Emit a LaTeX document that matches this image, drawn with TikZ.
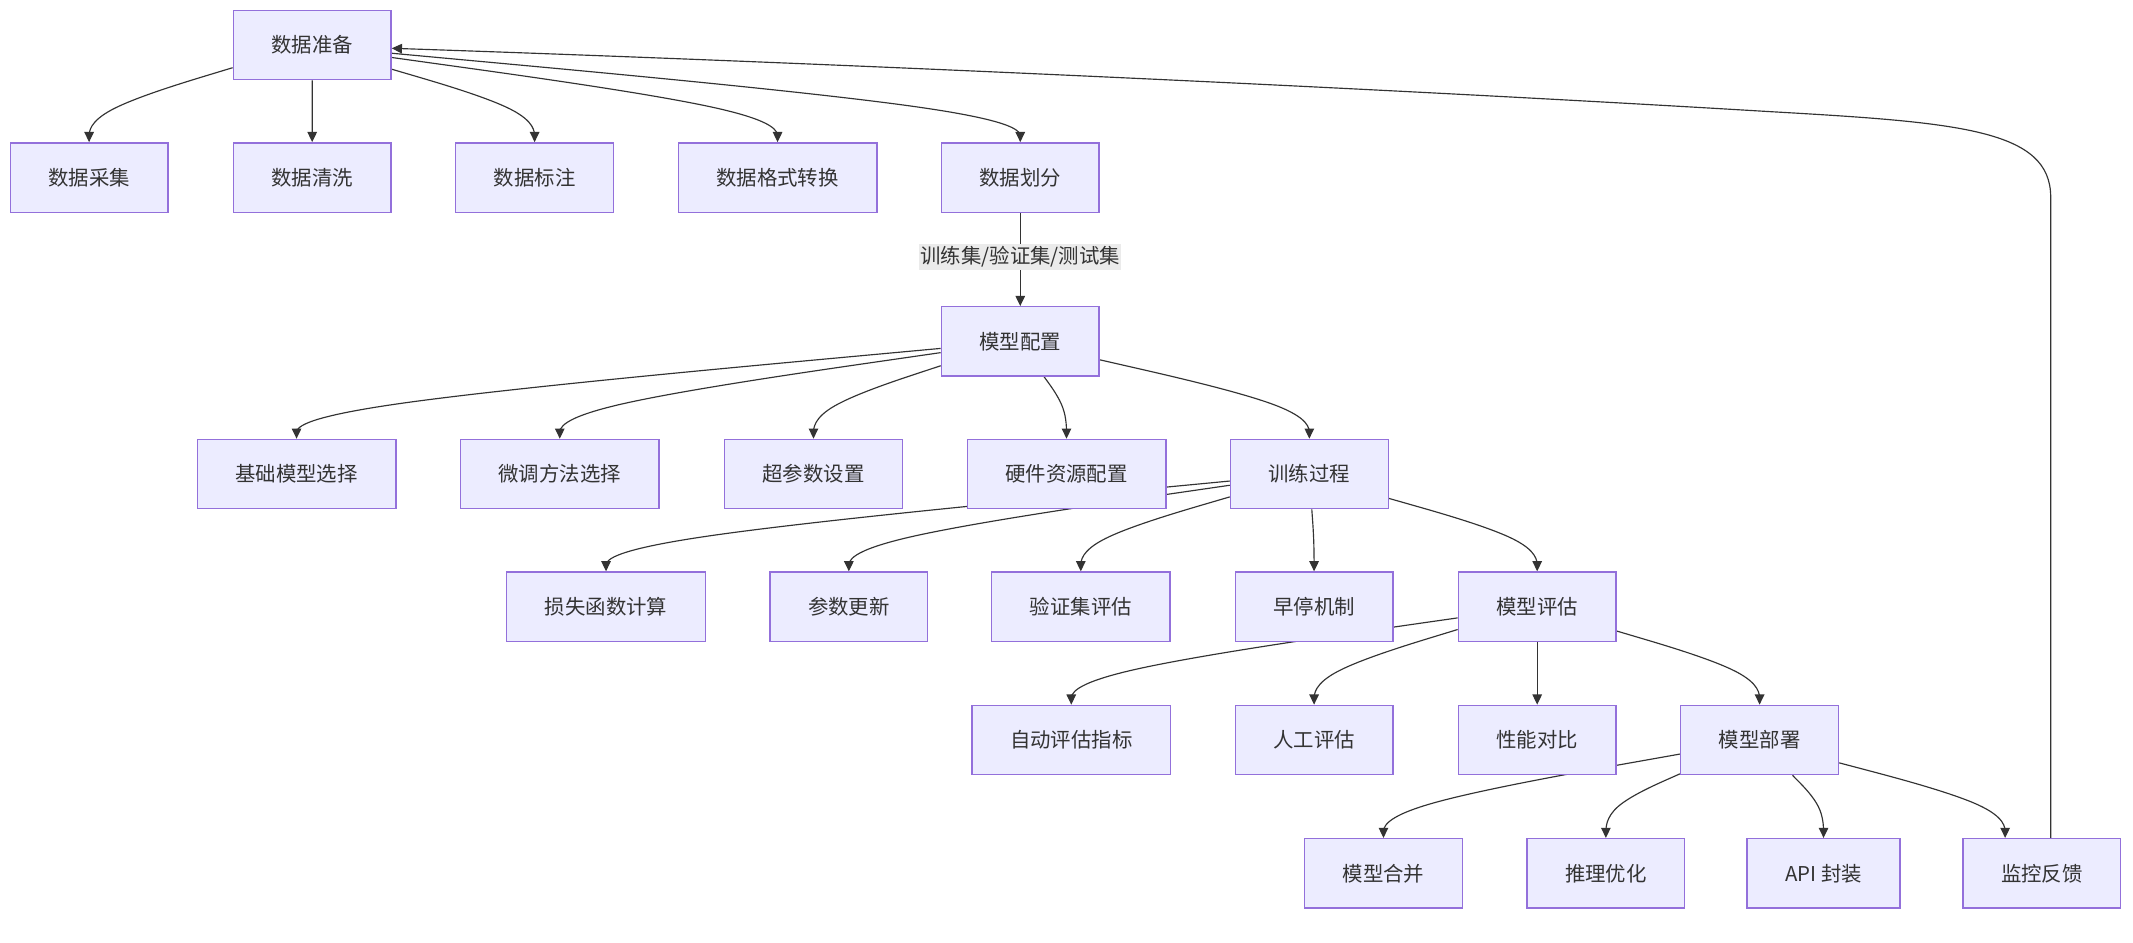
\documentclass[tikz,border=0pt]{standalone}
\usepackage{fontspec}
\setmainfont{Noto Sans CJK SC}
\usetikzlibrary{arrows.meta,calc,backgrounds}
\definecolor{nodefill}{HTML}{ECECFF}
\definecolor{nodeborder}{HTML}{9370DB}
\definecolor{textc}{HTML}{333333}
\definecolor{edgec}{HTML}{333333}
\definecolor{lblbg}{HTML}{EBEBEB}
% mermaid-like basis curve: #1 x-shift of end, #2 source, #3 target, #4 y of bend point
\newcommand{\medge}[4][0]{%
  \coordinate (mT) at ($(#3.north)+(#1,0)$);
  \coordinate (mM) at (mT |- 0,#4);
  \pgfmathanglebetweenpoints{\pgfpointanchor{#2}{center}}{\pgfpointanchor{mM}{center}}%
  \edef\mdgang{\pgfmathresult}%
  \coordinate (mS) at (#2.\mdgang);
  \coordinate (mH) at ($(mS)!0.5!(mT)$);
  \coordinate (mP) at ($(mM)!1/3!(mH)$);
  \draw[edge] (mS) -- ($(mS)!1/6!(mM)$) .. controls ($(mS)!1/3!(mM)$) and ($(mS)!2/3!(mM)$) .. (mP) .. controls ($(mM)!1/3!(mT)$) and ($(mM)!2/3!(mT)$) .. ($(mM)!5/6!(mT)$) -- (mT);
}
\begin{document}
\begin{tikzpicture}[x=1pt,y=-1pt,
  box/.style={draw=nodeborder, fill=nodefill, line width=1pt, minimum height=51pt,
    inner xsep=28pt, text=textc, font=\fontsize{15pt}{18pt}\selectfont},
  lbl/.style={fill=lblbg, text=textc, inner xsep=1pt, inner ysep=2pt,
    font=\fontsize{15pt}{18pt}\selectfont},
  edge/.style={draw=edgec, line width=0.85pt, -{Triangle[length=7.5pt,width=7pt]}}]
\useasboundingbox (0,0) rectangle (1568,692.5);
% nodes
\node[box] (N1) at (229.5,33) {数据准备};
\node[box] (A1) at (65.5,130.5) {数据采集};
\node[box] (A2) at (229.5,130.5) {数据清洗};
\node[box] (A3) at (393,130.5) {数据标注};
\node[box] (A4) at (571.6,130.5) {数据格式转换};
\node[box] (A5) at (750,130.5) {数据划分};
\node[box] (B) at (750,251) {模型配置};
\node[box] (C1) at (218,348.5) {基础模型选择};
\node[box] (C2) at (411.5,348.5) {微调方法选择};
\node[box] (C3) at (598,348.5) {超参数设置};
\node[box] (C4) at (784,348.5) {硬件资源配置};
\node[box] (C5) at (962.5,348.5) {训练过程};
\node[box] (D1) at (445.5,446) {损失函数计算};
\node[box] (D2) at (624,446) {参数更新};
\node[box] (D3) at (794.5,446) {验证集评估};
\node[box] (D4) at (966,446) {早停机制};
\node[box] (D5) at (1130,446) {模型评估};
\node[box] (E1) at (787.5,544) {自动评估指标};
\node[box] (E2) at (966,544) {人工评估};
\node[box] (E3) at (1130,544) {性能对比};
\node[box] (E4) at (1293.5,544) {模型部署};
\node[box] (F1) at (1017,642) {模型合并};
\node[box] (F2) at (1180.5,642) {推理优化};
\node[box] (F3) at (1340.5,642) {API 封装};
\node[box] (F4) at (1501,642) {监控反馈};
\node[lbl] (L) at (750,189) {训练集/验证集/测试集};
\begin{scope}[on background layer]
\fill[white] (0,0) rectangle (1568,692.5);
\medge{N1}{A1}{81.75}
\medge{N1}{A2}{81.75}
\medge{N1}{A3}{81.75}
\medge{N1}{A4}{81.75}
\medge{N1}{A5}{81.75}
\draw[edge] (A5) -- (B);
\medge{B}{C1}{299.7}
\medge{B}{C2}{299.7}
\medge{B}{C3}{299.7}
\medge{B}{C4}{299.7}
\medge{B}{C5}{299.7}
\medge{C5}{D1}{397.4}
\medge{C5}{D2}{397.4}
\medge{C5}{D3}{397.4}
\medge{C5}{D4}{397.4}
\medge{C5}{D5}{397.4}
\medge{D5}{E1}{495}
\medge{D5}{E2}{495}
\medge{D5}{E3}{495}
\medge{D5}{E4}{495}
\medge{E4}{F1}{593}
\medge{E4}{F2}{593}
\medge{E4}{F3}{593}
\medge[-27]{E4}{F4}{593}
\draw[edge] ($(F4.north)+(6.5,0)$) -- (1507.5,145)
  .. controls (1507.5,95) and (1440,90) .. (1300,82)
  .. controls (1000,64) and (600,46) .. ($(N1.east)+(0,2.5)$);
\end{scope}
\end{tikzpicture}
\end{document}
